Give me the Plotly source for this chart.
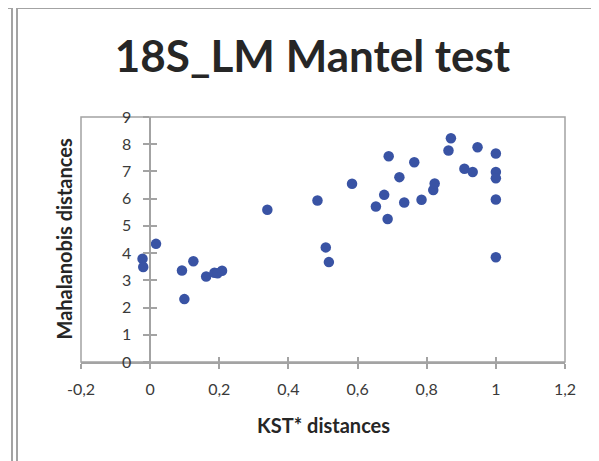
import plotly.graph_objects as go

# ---- data ----
kst_distances = [-0.022, -0.020, 0.017, 0.092, 0.099, 0.125, 0.162, 0.186, 0.195, 0.208,
                 0.339, 0.484, 0.508, 0.517, 0.584, 0.653, 0.677, 0.687, 0.690, 0.721,
                 0.735, 0.764, 0.785, 0.819, 0.823, 0.863, 0.870, 0.909, 0.933, 0.947,
                 1.000, 1.000, 1.000, 1.000, 1.000]
mahalanobis_distances = [3.79, 3.49, 4.34, 3.36, 2.31, 3.70, 3.14, 3.28, 3.26, 3.35,
                         5.59, 5.93, 4.21, 3.67, 6.55, 5.71, 6.14, 5.25, 7.56, 6.79,
                         5.86, 7.34, 5.96, 6.32, 6.56, 7.77, 8.22, 7.10, 6.98, 7.89,
                         7.66, 6.98, 6.75, 5.97, 3.85]

x_tick_values = [-0.2, 0, 0.2, 0.4, 0.6, 0.8, 1.0, 1.2]
x_tick_labels = ["-0,2", "0", "0,2", "0,4", "0,6", "0,8", "1", "1,2"]
y_tick_values = [0, 1, 2, 3, 4, 5, 6, 7, 8, 9]
y_tick_labels = ["0", "1", "2", "3", "4", "5", "6", "7", "8", "9"]

chart_title = "18S_LM Mantel test"
x_title = "KST* distances"
y_title = "Mahalanobis distances"

# ---- styling ----
FONT = "Lato, 'Open Sans', sans-serif"
GRAY = "#A3A3A3"
DOT = "#3953A4"
TICK_TXT = "#3A3A3A"
TXT = "#262626"

x_range = [-0.2, 1.2]
y_range = [0, 9]
yaxis_pos = (0 - x_range[0]) / (x_range[1] - x_range[0])

OFF = 8  # page body margin: figure starts at (8, 8) in the window
W, H = 599 - OFF, 461 - OFF
# plot area in window pixels: x 81..565, y 117..362
L, R = 81 - OFF, (599 - OFF) - (565 - OFF)
T, B = 117 - OFF, (461 - OFF) - (362 - OFF)

fig = go.Figure()
fig.add_trace(go.Scatter(
    x=kst_distances, y=mahalanobis_distances, mode="markers",
    marker=dict(size=10.5, color=DOT, line=dict(width=0)),
    showlegend=False, hoverinfo="x+y",
))
# empty trace to carry the inner half of the crossing tick marks
fig.add_trace(go.Scatter(x=[], y=[], xaxis="x2", yaxis="y2", showlegend=False,
                         hoverinfo="skip"))

common_tick = dict(tickcolor=GRAY, tickwidth=1.5, showgrid=False, zeroline=False)

fig.update_layout(
    width=W, height=H,
    margin=dict(l=L, r=R, t=T, b=B),
    paper_bgcolor="white", plot_bgcolor="white",
    font=dict(family=FONT, color=TICK_TXT, size=16),
    title=dict(text=chart_title, x=(312.5 - OFF) / W, xanchor="center",
               y=1 - (57 - OFF) / H, yanchor="middle",
               font=dict(family=FONT, size=44, color=TXT, weight="bold")),
    xaxis=dict(range=x_range, tickmode="array", tickvals=x_tick_values,
               ticktext=x_tick_labels, ticks="outside", ticklen=5,
               showline=True, linecolor=GRAY, linewidth=1.5,
               ticklabelstandoff=7, tickfont=dict(size=16, color=TICK_TXT),
               **common_tick),
    yaxis=dict(range=y_range, tickmode="array", tickvals=y_tick_values,
               ticktext=y_tick_labels, ticks="outside", ticklen=6,
               anchor="free", position=yaxis_pos, side="left",
               showline=True, linecolor=GRAY, linewidth=1.5,
               ticklabelstandoff=9, tickfont=dict(size=16, color=TICK_TXT),
               **common_tick),
    xaxis2=dict(range=x_range, overlaying="x", anchor="y", side="bottom",
                tickmode="array", tickvals=x_tick_values, ticks="inside",
                ticklen=5, showticklabels=False, showline=False, **common_tick),
    yaxis2=dict(range=y_range, overlaying="y", anchor="free", position=yaxis_pos,
                side="left", tickmode="array", tickvals=y_tick_values,
                ticks="inside", ticklen=6, showticklabels=False, showline=False,
                **common_tick),
)

# plot-area frame
fig.add_shape(type="rect", xref="paper", yref="paper", x0=0, y0=0, x1=1, y1=1,
              line=dict(color=GRAY, width=1.5), layer="below")

# helpers: window pixel -> paper coordinate
def px_x(px):
    return (px - 81) / (565 - 81)

def px_y(py):
    return (362 - py) / (362 - 117)

# chart-area borders (spreadsheet chart objects)
border = dict(color=GRAY, width=2)
top_y = px_y(OFF)
fig.add_shape(type="line", xref="paper", yref="paper",
              x0=px_x(OFF - 2), x1=px_x(12), y0=top_y, y1=top_y, line=border)
fig.add_shape(type="line", xref="paper", yref="paper",
              x0=px_x(12), x1=px_x(12), y0=top_y, y1=px_y(480), line=border)
fig.add_shape(type="line", xref="paper", yref="paper",
              x0=px_x(17), x1=px_x(17), y0=top_y, y1=px_y(480), line=border)
fig.add_shape(type="line", xref="paper", yref="paper",
              x0=px_x(17), x1=px_x(620), y0=top_y, y1=top_y, line=border)

# axis titles
fig.add_annotation(text=y_title, xref="paper", yref="paper",
                   x=px_x(63), y=0.5, xanchor="center", yanchor="middle",
                   textangle=-90, showarrow=False,
                   font=dict(family=FONT, size=20, color=TXT, weight="bold"))
fig.add_annotation(text=x_title, xref="paper", yref="paper",
                   x=0.5, y=px_y(425), xanchor="center", yanchor="middle",
                   showarrow=False,
                   font=dict(family=FONT, size=20, color=TXT, weight="bold"))

fig.write_html("out.html")
